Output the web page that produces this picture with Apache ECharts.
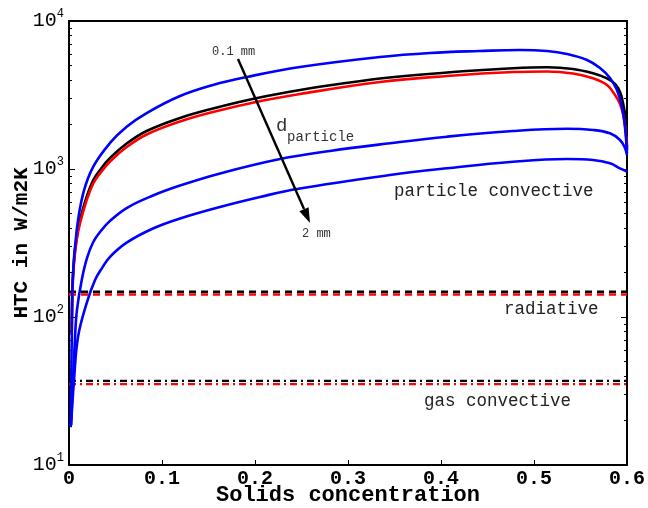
<!DOCTYPE html>
<html>
<head>
<meta charset="utf-8">
<script src="https://cdn.jsdelivr.net/npm/echarts@6/dist/echarts.min.js"></script>
<style>html,body{margin:0;padding:0;background:#fff;}#c{width:648px;height:508px;}</style>
</head>
<body>
<div id="c"></div>
<script>
// ---- data ----
const xTickValues = [0, 0.1, 0.2, 0.3, 0.4, 0.5, 0.6];
const xTickLabels = ['0', '0.1', '0.2', '0.3', '0.4', '0.5', '0.6'];
const yMajorTicks = [10, 100, 1000, 10000];
const yMinorTicks = [20,30,40,50,60,70,80,90,200,300,400,500,600,700,800,900,2000,3000,4000,5000,6000,7000,8000,9000];

// black curve
const xBlack   = [0.0029, 0.0038, 0.0054, 0.0083, 0.0118, 0.019, 0.0261, 0.0333, 0.0441, 0.062, 0.0835, 0.1194, 0.1548, 0.2011, 0.2484, 0.3344, 0.4065, 0.4774, 0.514, 0.5419, 0.5634, 0.5785, 0.5871, 0.5925, 0.5957, 0.5984, 0.6];
const htcBlack = [75.5, 164, 243, 349, 452, 650, 843, 985, 1186, 1486, 1806, 2213, 2563, 3006, 3420, 4085, 4487, 4790, 4867, 4740, 4434, 4100, 3752, 3313, 2793, 2213, 1344];
// red curve
const xRed   = [0.0029, 0.0038, 0.0054, 0.0083, 0.0118, 0.019, 0.0261, 0.0333, 0.0441, 0.062, 0.0835, 0.1194, 0.1548, 0.2011, 0.2484, 0.3344, 0.4065, 0.4774, 0.514, 0.5419, 0.5634, 0.5785, 0.5871, 0.5925, 0.5964, 0.5984, 0.6];
const htcRed = [75.5, 157, 232, 331, 428, 617, 798, 933, 1124, 1408, 1711, 2094, 2427, 2837, 3213, 3870, 4250, 4520, 4560, 4415, 4100, 3695, 3162, 2750, 2255, 1836, 1408];
// blue curves, d_particle = 0.1 mm (1) ... 2 mm (3)
const xBlue1   = [0.0018, 0.003, 0.004, 0.0083, 0.0154, 0.0261, 0.0441, 0.062, 0.0835, 0.1194, 0.1548, 0.1914, 0.2484, 0.3344, 0.3882, 0.4419, 0.4849, 0.514, 0.5355, 0.557, 0.571, 0.5817, 0.5892, 0.5946, 0.5978, 0.6];
const htcBlue1 = [18, 75, 178, 387, 689, 1038, 1500, 1931, 2388, 3112, 3696, 4188, 4887, 5710, 6080, 6270, 6370, 6270, 5985, 5450, 4810, 4120, 3420, 2625, 1923, 1282];
const xBlue2   = [0.0022, 0.0065, 0.0086, 0.0137, 0.0194, 0.0261, 0.0333, 0.0441, 0.062, 0.0903, 0.1194, 0.1624, 0.2269, 0.2806, 0.3452, 0.4065, 0.4774, 0.5355, 0.5634, 0.5817, 0.5925, 0.5978, 0.6];
const htcBlue2 = [18.6, 73.3, 112, 178, 251, 321, 375, 446, 545, 662, 773, 933, 1167, 1324, 1493, 1653, 1806, 1871, 1836, 1742, 1570, 1387, 1244];
const xBlue3   = [0.0022, 0.0054, 0.0097, 0.019, 0.028, 0.0355, 0.0441, 0.062, 0.0903, 0.1194, 0.1624, 0.2054, 0.2452, 0.3452, 0.4065, 0.4774, 0.5355, 0.5634, 0.5817, 0.5925, 0.6];
const htcBlue3 = [18.6, 37.5, 73.3, 124, 178, 214, 255, 318, 396, 463, 554, 647, 733, 910, 1011, 1120, 1169, 1151, 1093, 1011, 959];
// constant contributions
const xRange = [0, 0.6];
const radiativeBlack = [148, 148];
const radiativeRed   = [142, 142];
const gasBlack = [37, 37];
const gasRed   = [35.2, 35.2];

function pairs(xs, ys) { return xs.map((x, i) => [x, ys[i]]); }

const MONO = "'Liberation Mono', 'DejaVu Sans Mono', monospace";

function curve(name, xs, ys, color) {
  return { name, type: 'line', data: pairs(xs, ys), showSymbol: false, symbol: 'none',
    smooth: 0.4, lineStyle: { color, width: 2.6 }, z: 3, animation: false };
}
function flat(name, ys, color, dash) {
  return { name, type: 'line', data: pairs(xRange, ys), showSymbol: false, symbol: 'none',
    lineStyle: { color, width: 2.4, type: dash }, z: 2, animation: false };
}

const yLabelFmt = v => {
  const e = Math.round(Math.log10(v));
  return '{b|10}{s|' + e + '}';
};

const yBase = { type: 'log', logBase: 10, min: 10, max: 10000, splitLine: { show: false } };

const option = {
  backgroundColor: '#fff',
  animation: false,
  grid: { left: 69, right: 21, top: 21, bottom: 43, containLabel: false, outerBoundsMode: 'none' },
  xAxis: [
    { type: 'value', min: 0, max: 0.6, interval: 0.1, position: 'bottom',
      name: 'Solids concentration', nameLocation: 'middle', nameGap: 19, nameMoveOverlap: false,
      nameTextStyle: { fontFamily: MONO, fontWeight: 'bold', fontSize: 22, color: '#000', verticalAlign: 'top' },
      axisLine: { show: true, lineStyle: { color: '#000', width: 2 } },
      axisTick: { show: true, inside: true, length: 5, lineStyle: { color: '#000', width: 1 }, customValues: xTickValues },
      axisLabel: { fontFamily: MONO, fontWeight: 'bold', fontSize: 20, color: '#000', margin: 4,
        formatter: v => xTickLabels[xTickValues.indexOf(Math.round(v * 10) / 10)] },
      splitLine: { show: false } },
    { type: 'value', min: 0, max: 0.6, interval: 0.1, position: 'top',
      axisLine: { show: true, lineStyle: { color: '#000', width: 2 } },
      axisTick: { show: false }, axisLabel: { show: false }, splitLine: { show: false } }
  ],
  yAxis: [
    Object.assign({}, yBase, { position: 'left',
      name: 'HTC in W/m2K', nameLocation: 'middle', nameGap: 37, nameRotate: 90, nameMoveOverlap: false,
      nameTextStyle: { fontFamily: MONO, fontWeight: 'bold', fontSize: 21, color: '#000' },
      axisLine: { show: true, lineStyle: { color: '#000', width: 2 } },
      axisTick: { show: true, inside: true, length: 6, customValues: yMajorTicks, lineStyle: { color: '#000' } },
      axisLabel: { formatter: yLabelFmt, margin: 5,
        rich: { b: { fontFamily: MONO, fontSize: 20, color: '#000' },
                s: { fontFamily: MONO, fontSize: 12, color: '#000', padding: [0, 0, 14, 0] } } } }),
    Object.assign({}, yBase, { position: 'left',
      axisLine: { show: false }, axisLabel: { show: false },
      axisTick: { show: true, inside: true, length: 3, customValues: yMinorTicks, lineStyle: { color: '#000' } } }),
    Object.assign({}, yBase, { position: 'right',
      axisLine: { show: true, lineStyle: { color: '#000', width: 2 } }, axisLabel: { show: false },
      axisTick: { show: true, inside: true, length: 6, customValues: yMajorTicks, lineStyle: { color: '#000' } } }),
    Object.assign({}, yBase, { position: 'right',
      axisLine: { show: false }, axisLabel: { show: false },
      axisTick: { show: true, inside: true, length: 3, customValues: yMinorTicks, lineStyle: { color: '#000' } } })
  ],
  series: [
    flat('radiative black', radiativeBlack, '#000', [7, 5]),
    flat('radiative red', radiativeRed, '#ff0000', [7, 5]),
    flat('gas black', gasBlack, '#000', [7, 4, 2, 4]),
    flat('gas red', gasRed, '#ff0000', [7, 4, 2, 4]),
    curve('black', xBlack, htcBlack, '#000'),
    curve('red', xRed, htcRed, '#ff0000'),
    curve('d 2 mm', xBlue3, htcBlue3, '#0000ff'),
    curve('d mid', xBlue2, htcBlue2, '#0000ff'),
    curve('d 0.1 mm', xBlue1, htcBlue1, '#0000ff')
  ],
  graphic: [
    { type: 'line', shape: { x1: 238, y1: 59, x2: 304, y2: 209 }, style: { stroke: '#000', lineWidth: 2.4 }, z: 10 },
    { type: 'polygon', shape: { points: [[310, 223], [299.4, 211.3], [308.6, 207.3]] }, style: { fill: '#000' }, z: 10 },
    { type: 'text', x: 212, y: 52, style: { text: '0.1 mm', font: "12px " + MONO, fill: '#333', verticalAlign: 'middle' }, z: 10 },
    { type: 'text', x: 302, y: 234, style: { text: '2 mm', font: "12px " + MONO, fill: '#333', verticalAlign: 'middle' }, z: 10 },
    { type: 'text', x: 276, y: 126, style: { text: 'd', font: "19px " + MONO, fill: '#333', verticalAlign: 'middle' }, z: 10 },
    { type: 'text', x: 287, y: 137, style: { text: 'particle', font: "14px " + MONO, fill: '#333', verticalAlign: 'middle' }, z: 10 },
    { type: 'text', x: 394, y: 191, style: { text: 'particle convective', font: "17.5px " + MONO, fill: '#222', verticalAlign: 'middle' }, z: 10 },
    { type: 'text', x: 504, y: 309, style: { text: 'radiative', font: "17.5px " + MONO, fill: '#222', verticalAlign: 'middle' }, z: 10 },
    { type: 'text', x: 424, y: 401, style: { text: 'gas convective', font: "17.5px " + MONO, fill: '#222', verticalAlign: 'middle' }, z: 10 }
  ]
};

const chart = echarts.init(document.getElementById('c'), null, { renderer: 'canvas' });
chart.setOption(option);
</script>
</body>
</html>
